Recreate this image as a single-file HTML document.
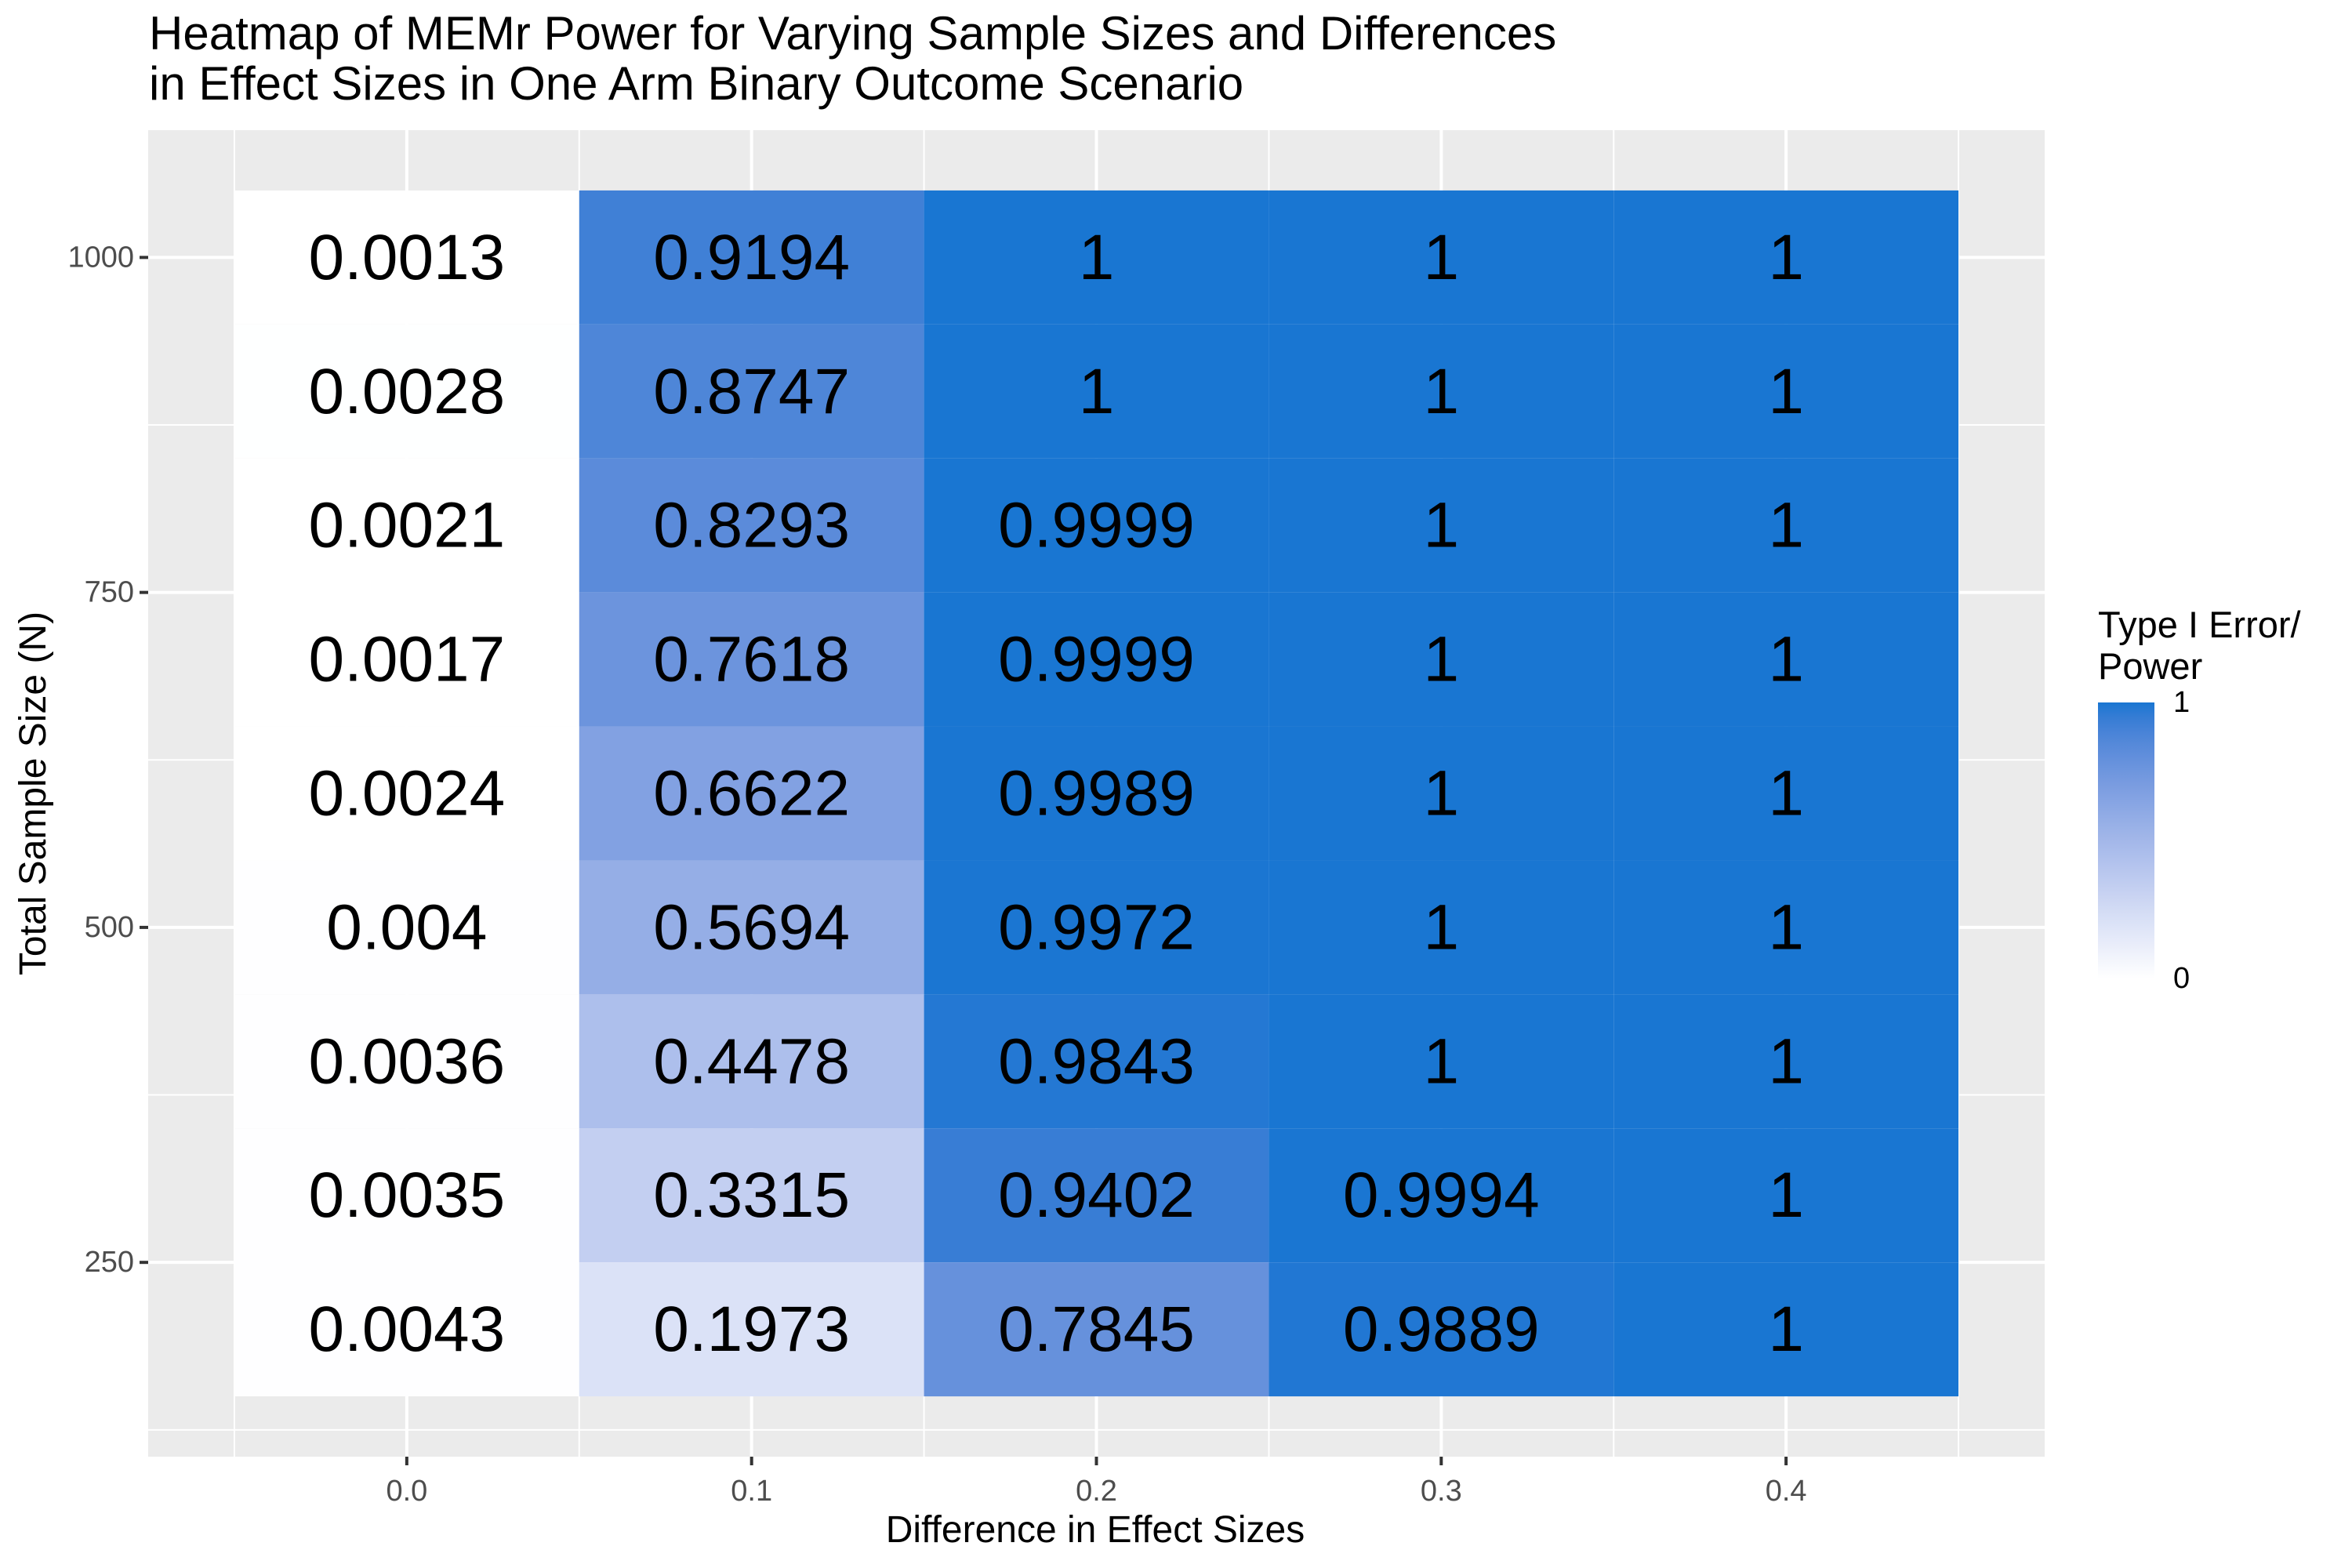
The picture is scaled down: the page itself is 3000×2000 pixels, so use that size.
<!DOCTYPE html>
<html><head><meta charset="utf-8">
<style>
html,body{margin:0;padding:0;background:#fff;}
svg{display:block;font-family:"Liberation Sans",Arial,sans-serif;}
</style></head>
<body>
<svg id="chart" width="3000" height="2000" viewBox="0 0 3000 2000" xmlns="http://www.w3.org/2000/svg">
<rect x="0" y="0" width="3000" height="2000" fill="#ffffff"/>
<text x="190" y="63" font-size="60" fill="#000">Heatmap of MEMr Power for Varying Sample Sizes and Differences</text>
<text x="190" y="127" font-size="60" fill="#000">in Effect Sizes in One Arm Binary Outcome Scenario</text>
<g id="plot"></g>
<text x="1397" y="1967" font-size="48" text-anchor="middle" fill="#000">Difference in Effect Sizes</text>
<text x="0" y="0" font-size="48" text-anchor="middle" fill="#000" transform="translate(58,1012) rotate(-90)">Total Sample Size (N)</text>
<defs>
<linearGradient id="lg" x1="0" y1="1" x2="0" y2="0"></linearGradient>
</defs>
<g id="legend">
<text x="2676" y="813" font-size="47" fill="#000">Type I Error/</text>
<text x="2676" y="866" font-size="47" fill="#000">Power</text>
<rect x="2676" y="896" width="72" height="352" fill="url(#lg)"/>
<text x="2772" y="896" font-size="38" dominant-baseline="central" fill="#000">1</text>
<text x="2772" y="1248" font-size="38" dominant-baseline="central" fill="#000">0</text>
</g>
</svg>
<script>
const xCategories = [0, 0.1, 0.2, 0.3, 0.4];
const xTickLabels = ["0.0", "0.1", "0.2", "0.3", "0.4"];
const yCategories = [1000, 900, 800, 700, 600, 500, 400, 300, 200];
const yTicks = [250, 500, 750, 1000];
const yTickLabels = ["250", "500", "750", "1000"];
const powerDiff00 = [0.0013, 0.0028, 0.0021, 0.0017, 0.0024, 0.004, 0.0036, 0.0035, 0.0043];
const powerDiff01 = [0.9194, 0.8747, 0.8293, 0.7618, 0.6622, 0.5694, 0.4478, 0.3315, 0.1973];
const powerDiff02 = [1, 1, 0.9999, 0.9999, 0.9989, 0.9972, 0.9843, 0.9402, 0.7845];
const powerDiff03 = [1, 1, 1, 1, 1, 1, 1, 0.9994, 0.9889];
const powerDiff04 = [1, 1, 1, 1, 1, 1, 1, 1, 1];
const seriesByX = [powerDiff00, powerDiff01, powerDiff02, powerDiff03, powerDiff04];

const NS = "http://www.w3.org/2000/svg";
const P = {left: 189, right: 2608, top: 166, bottom: 1858};
const xDom = [-0.075, 0.475], yDom = [105, 1095];
function xs(v){ return P.left + (v - xDom[0]) / (xDom[1] - xDom[0]) * (P.right - P.left); }
function ys(v){ return P.bottom - (v - yDom[0]) / (yDom[1] - yDom[0]) * (P.bottom - P.top); }
function mk(tag, attrs, parent){ const e = document.createElementNS(NS, tag); for (const k in attrs) e.setAttribute(k, attrs[k]); parent.appendChild(e); return e; }

function s2l(c){ c/=255; return c<=0.04045? c/12.92 : Math.pow((c+0.055)/1.055,2.4); }
function l2s(c){ c = c<=0.0031308? 12.92*c : 1.055*Math.pow(c,1/2.4)-0.055; return Math.max(0,Math.min(255,Math.round(c*255))); }
function toLab(r,g,b){ r=s2l(r); g=s2l(g); b=s2l(b);
  let X=(r*0.4124+g*0.3576+b*0.1805)/0.95047, Y=(r*0.2126+g*0.7152+b*0.0722), Z=(r*0.0193+g*0.1192+b*0.9505)/1.08883;
  const f=t=>t>0.008856?Math.cbrt(t):7.787*t+16/116; X=f(X);Y=f(Y);Z=f(Z);
  return [116*Y-16, 500*(X-Y), 200*(Y-Z)]; }
function fromLab(L,a,b){ let Y=(L+16)/116, X=a/500+Y, Z=Y-b/200;
  const fi=t=>t*t*t>0.008856?t*t*t:(t-16/116)/7.787; X=fi(X)*0.95047; Y=fi(Y); Z=fi(Z)*1.08883;
  const r=X*3.2406+Y*-1.5372+Z*-0.4986, g=X*-0.9689+Y*1.8758+Z*0.0415, bb=X*0.0557+Y*-0.2040+Z*1.0570;
  return "rgb("+l2s(r)+","+l2s(g)+","+l2s(bb)+")"; }
const lo = toLab(255,255,255), hi = toLab(25,118,210);
function colorScale(v){ v=Math.max(0,Math.min(1,v)); return fromLab(lo[0]+(hi[0]-lo[0])*v, lo[1]+(hi[1]-lo[1])*v, lo[2]+(hi[2]-lo[2])*v); }

const plot = document.getElementById("plot");
const bg = mk("rect", {x:P.left, y:P.top, width:P.right-P.left, height:P.bottom-P.top, fill:"#EBEBEB"}, plot);



const xMinor = [-0.05, 0.05, 0.15, 0.25, 0.35, 0.45];
const yMinor = [125, 375, 625, 875];
xMinor.forEach(v => { const l = mk("line", {x1:xs(v), x2:xs(v), y1:P.top, y2:P.bottom, stroke:"#fff", "stroke-width":2}, plot);
    });
yMinor.forEach(v => { const l = mk("line", {x1:P.left, x2:P.right, y1:ys(v), y2:ys(v), stroke:"#fff", "stroke-width":2}, plot);
    });
xCategories.forEach(v => { const l = mk("line", {x1:xs(v), x2:xs(v), y1:P.top, y2:P.bottom, stroke:"#fff", "stroke-width":4}, plot);
    });
yTicks.forEach(v => { const l = mk("line", {x1:P.left, x2:P.right, y1:ys(v), y2:ys(v), stroke:"#fff", "stroke-width":4}, plot);
    });

const dx = 0.1, dy = 100;
xCategories.forEach((xv, i) => {
  yCategories.forEach((yv, j) => {
    const val = seriesByX[i][j];
    const r = mk("rect", {x:xs(xv-dx/2), y:ys(yv+dy/2), width:xs(xv+dx/2)-xs(xv-dx/2), height:ys(yv-dy/2)-ys(yv+dy/2), fill:colorScale(val)}, plot);
    
    
  });
});
xCategories.forEach((xv, i) => {
  yCategories.forEach((yv, j) => {
    const t = mk("text", {x:xs(xv), y:ys(yv), "font-size":82, "text-anchor":"middle", "dominant-baseline":"central", fill:"#000"}, plot);
    t.textContent = String(seriesByX[i][j]);
    
    
  });
});

xCategories.forEach((xv, i) => {
  const tk = mk("line", {x1:xs(xv), x2:xs(xv), y1:P.bottom, y2:P.bottom+11, stroke:"#333", "stroke-width":4}, plot);
  
  
  const t = mk("text", {x:xs(xv), y:1914, "font-size":38, "text-anchor":"middle", fill:"#4D4D4D"}, plot);
  t.textContent = xTickLabels[i];
  
  
});
yTicks.forEach((yv, i) => {
  const tk = mk("line", {x1:P.left-11, x2:P.left, y1:ys(yv), y2:ys(yv), stroke:"#333", "stroke-width":4}, plot);
  
  
  const t = mk("text", {x:P.left-18, y:ys(yv), "font-size":38, "text-anchor":"end", "dominant-baseline":"central", fill:"#4D4D4D"}, plot);
  t.textContent = yTickLabels[i];
  
  
});

const lg = document.getElementById("lg");
for (let k = 0; k <= 20; k++) {
  const s = mk("stop", {offset:(k/20*100)+"%", "stop-color":colorScale(k/20)}, lg);
  
  
}
</script>
</body></html>
